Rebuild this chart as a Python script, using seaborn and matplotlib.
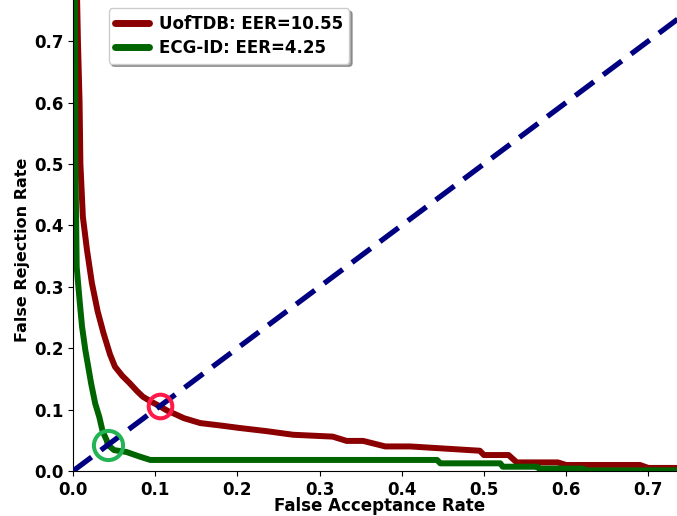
import matplotlib
matplotlib.use("Agg")
import matplotlib.pyplot as plt
import seaborn as sns
import numpy as np
import pandas as pd

# DET curve points (FAR, FRR)
far_uoft = [0.005, 0.006, 0.008, 0.009, 0.012, 0.017, 0.023, 0.030, 0.037, 0.045, 0.051,
            0.060, 0.069, 0.078, 0.085, 0.095, 0.1055, 0.115, 0.122, 0.135, 0.155, 0.18,
            0.203, 0.235, 0.268, 0.30, 0.316, 0.333, 0.353, 0.38, 0.41, 0.495, 0.50, 0.53,
            0.54, 0.59, 0.60, 0.69, 0.70, 0.735]
frr_uoft = [0.767, 0.70, 0.60, 0.50, 0.414, 0.36, 0.306, 0.26, 0.225, 0.19, 0.17,
            0.155, 0.143, 0.13, 0.121, 0.113, 0.1055, 0.098, 0.094, 0.086, 0.078, 0.074,
            0.070, 0.065, 0.059, 0.057, 0.056, 0.049, 0.049, 0.040, 0.040, 0.033, 0.026, 0.026,
            0.014, 0.014, 0.0098, 0.0098, 0.005, 0.005]

far_ecg = [0.0025, 0.003, 0.0045, 0.008, 0.011, 0.015, 0.022, 0.027, 0.032, 0.036, 0.041,
           0.0425, 0.05, 0.065, 0.08, 0.094, 0.443, 0.447, 0.52, 0.523, 0.565, 0.567, 0.62,
           0.625, 0.735]
frr_ecg = [0.767, 0.50, 0.332, 0.278, 0.235, 0.197, 0.143, 0.11, 0.088, 0.065, 0.05,
           0.0425, 0.034, 0.031, 0.024, 0.018, 0.018, 0.0125, 0.0125, 0.007, 0.007, 0.004, 0.004,
           0.001, 0.001]

labels = ["UofTDB: EER=10.55", "ECG-ID: EER=4.25"]
eer = [0.1055, 0.0425]
line_colors = ["#8b0000", "#006400"]
circle_colors = ["#ff1a4a", "#22b455"]
circle_sizes = [17, 21]
ticks = [0.0, 0.1, 0.2, 0.3, 0.4, 0.5, 0.6, 0.7]

sns.set_style("ticks")
plt.rcParams["font.family"] = ["DejaVu Sans"]
plt.rcParams["font.weight"] = "bold"
for key in ["text.color", "axes.labelcolor", "xtick.color", "ytick.color", "axes.edgecolor"]:
    plt.rcParams[key] = "black"

fig = plt.figure(figsize=[6.77, 5.16], dpi=100)
ax = fig.add_axes([73 / 677, 45 / 516, 1 - 73 / 677, 1 - 45 / 516])

df = pd.concat([
    pd.DataFrame({"FAR": far_uoft, "FRR": frr_uoft, "set": labels[0]}),
    pd.DataFrame({"FAR": far_ecg, "FRR": frr_ecg, "set": labels[1]}),
])
sns.lineplot(data=df, x="FAR", y="FRR", hue="set", palette=line_colors,
             estimator=None, sort=False, linewidth=4.3, ax=ax, zorder=2)

diag = np.array([0.0, 0.8])
ax.plot(diag, diag, color="navy", linestyle=(0, (4.4, 2.2)), linewidth=3.8, zorder=3)

for e, c, s in zip(eer, circle_colors, circle_sizes):
    ax.plot([e], [e], marker="o", markersize=s, markerfacecolor="none",
            markeredgecolor=c, markeredgewidth=2.9, zorder=4)

fs = 12
ax.set(xlim=(0, 0.735), ylim=(0, 0.767), xticks=ticks, yticks=ticks)
ax.set_xticklabels([f"{t:.1f}" for t in ticks], fontsize=fs, fontweight="bold")
ax.set_yticklabels([f"{t:.1f}" for t in ticks], fontsize=fs, fontweight="bold")
ax.set_xlabel("False Acceptance Rate", fontsize=fs, fontweight="bold")
ax.set_ylabel("False Rejection Rate", fontsize=11.5, fontweight="bold")
ax.xaxis.set_label_coords(0.508, -0.056)
ax.yaxis.set_label_coords(-0.072, 0.469)
sns.despine(ax=ax)

leg = ax.legend(loc="upper left", bbox_to_anchor=(0.045, 1.0), fontsize=fs,
                shadow=True, handlelength=2.0, handletextpad=0.6,
                borderpad=0.4, labelspacing=0.35)
for t in leg.get_texts():
    t.set_fontweight("bold")
for h in leg.get_lines():
    h.set_linewidth(5)

fig.savefig("out.png", dpi=100)
